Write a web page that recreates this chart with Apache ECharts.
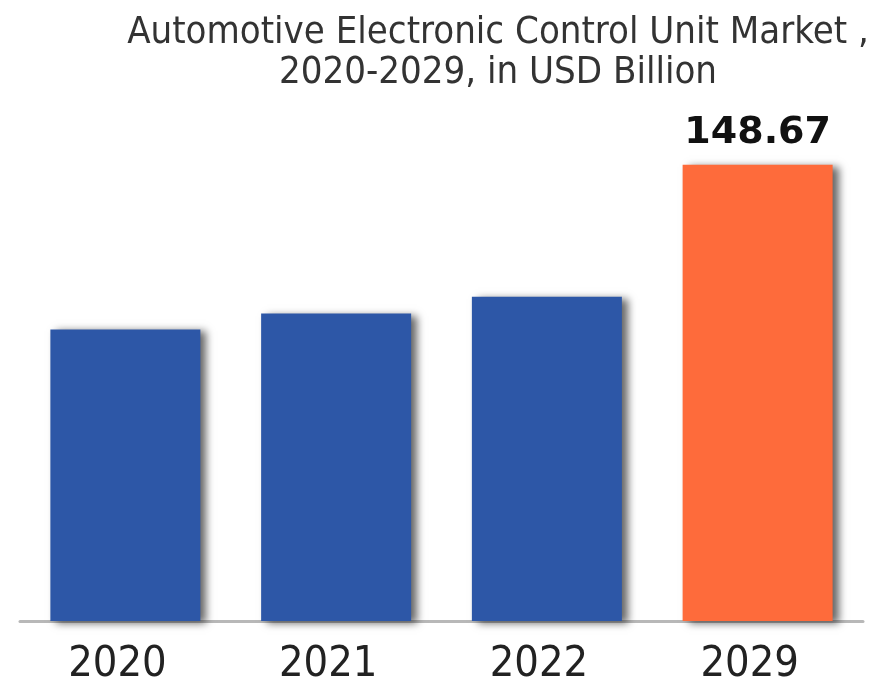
<!DOCTYPE html>
<html>
<head>
<meta charset="utf-8">
<script src="https://cdn.jsdelivr.net/npm/echarts@6/dist/echarts.min.js"></script>
<style>
  html, body { margin: 0; padding: 0; background: #fff; }
  #chart { width: 873px; height: 686px; }
</style>
</head>
<body>
<div id="chart"></div>
<script>
var years = ['2020', '2021', '2022', '2029'];
var marketValues = [95.0, 100.2, 105.7, 148.67];
var barColors = ['#2D57A7', '#2D57A7', '#2D57A7', '#FE6B3B'];
var labelledYear = '2029';

var narrow = "'Liberation Sans Narrow', 'DejaVu Sans Condensed', sans-serif";

var myChart = echarts.init(document.getElementById('chart'));
var options = {
    backgroundColor: '#fff',
    animation: false,
    title: {
        text: 'Automotive Electronic Control Unit Market ,\n2020-2029, in USD Billion',
        left: 493,
        top: 8,
        textAlign: 'center',
        textStyle: {
            fontFamily: narrow,
            fontWeight: 'normal',
            fontSize: 38,
            lineHeight: 40,
            color: '#333'
        }
    },
    grid: {
        left: 20,
        right: 10,
        top: 130,
        bottom: 61
    },
    xAxis: {
        type: 'category',
        data: years,
        axisLine: { lineStyle: { color: '#b8b8b8', width: 3 } },
        axisTick: { show: false },
        axisLabel: {
            margin: 22,
            padding: [0, 16, 0, 0],
            fontFamily: narrow,
            fontSize: 43,
            color: '#222'
        }
    },
    yAxis: {
        type: 'value',
        min: 0,
        max: 160,
        show: false
    },
    series: [{
        type: 'bar',
        barWidth: 150,
        data: marketValues.map(function (v, i) {
            return {
                value: v,
                itemStyle: {
                    color: barColors[i],
                    shadowColor: 'rgba(0,0,0,0.6)',
                    shadowBlur: 8,
                    shadowOffsetX: 6,
                    shadowOffsetY: 2
                },
                label: {
                    show: years[i] === labelledYear,
                    position: 'top',
                    distance: 13,
                    formatter: '{c}',
                    fontFamily: "'DejaVu Sans', sans-serif",
                    fontWeight: 'bold',
                    fontSize: 38,
                    color: '#111'
                }
            };
        })
    }]
};
myChart.setOption(options);
</script>
</body>
</html>
